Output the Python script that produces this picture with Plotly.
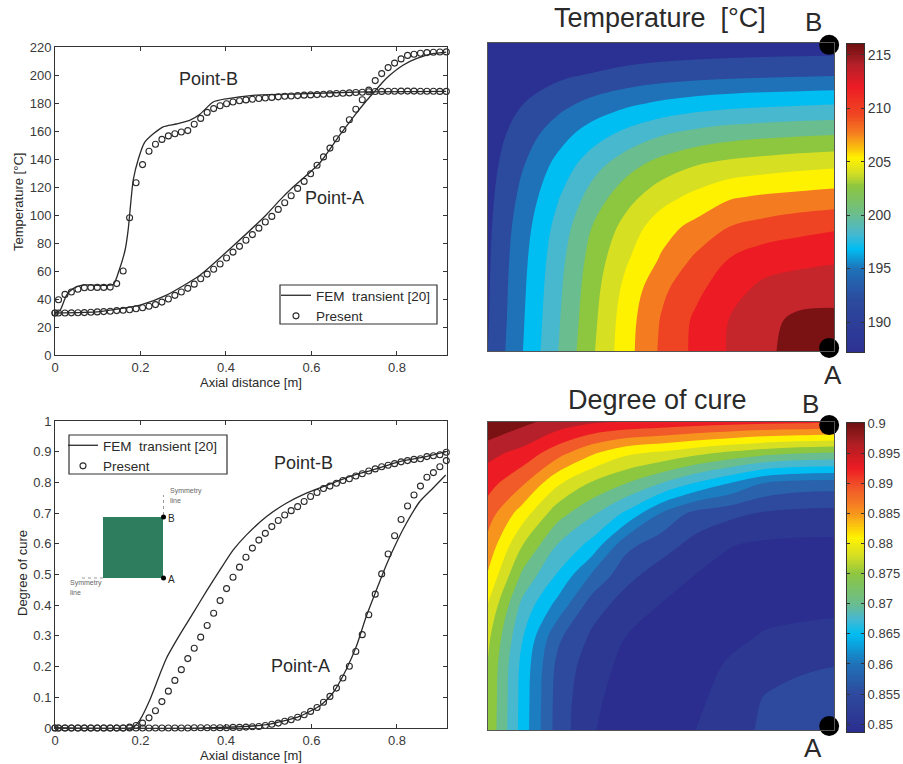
import numpy as np
import plotly.graph_objects as go

W, H = 903, 764
FONT = "Liberation Sans, Arial, sans-serif"
INK = "#2a2a2a"

# ---- line plots: data
x_present = [0, .0082, .0233, .0384, .0536, .0687, .0838, .0989, .114, .1292, .1443, .1594, .1745, .1896, .2048, .2199,
             .235, .2501, .2652, .2804, .2955, .3106, .3257, .3408, .356, .3711, .3862, .4013, .4164, .4316, .4467,
             .4618, .4769, .492, .5072, .5223, .5374, .5525, .5676, .5828, .5979, .613, .6281, .6432, .6584, .6735,
             .6886, .7037, .7188, .734, .7491, .7642, .7793, .7944, .8096, .8247, .8398, .8549, .87, .8852, .9003, .9154]

temp_a_present = [30, 30, 30, 30.1, 30.2, 30.3, 30.5, 30.8, 31, 31.3, 31.7, 32, 32.3, 33, 33.8, 34.8, 36, 37.8, 40, 42.6,
                  45, 47.6, 50.6, 54.5, 57.8, 61.3, 65, 69.3, 73.5, 77.6, 82, 86, 90.6, 95, 99, 104, 108.7, 113.7, 119,
                  124, 129.5, 135.5, 141.5, 147.8, 154.5, 161, 168, 175.5, 182.3, 189.2, 196, 201, 205.3, 208.5, 211.5,
                  214, 214.8, 215.5, 216, 216.3, 216.4, 216.5]
temp_b_present = [30, 39.5, 43.3, 45, 47, 48, 48.2, 48.3, 48.3, 48.5, 51, 60, 98, 123, 136, 145.5, 150.5, 154, 156.5, 158,
                  159.3, 160.3, 164.8, 169, 173.3, 176, 178, 179.5, 180.7, 181.6, 182.2, 182.7, 183.2, 183.6, 184, 184.4,
                  184.8, 185, 185.3, 185.6, 185.8, 186, 186.3, 186.5, 186.8, 187, 187.2, 187.5, 187.7, 188, 188.2, 188.3,
                  188.4, 188.4, 188.5, 188.5, 188.5, 188.4, 188.4, 188.4, 188.3, 188.3]
cure_a_present = [0] * 22 + [.001] * 6 + [.002, .002, .003, .004, .005, .008, .012, .016, .022, .027, .035, .043, .054,
                  .067, .084, .103, .13, .163, .201, .249, .304, .369, .436, .502, .567, .626, .679, .723, .759, .788,
                  .817, .832, .851, .871]
cure_b_present = [0] * 12 + [.003, .008, .016, .033, .056, .086, .12, .155, .19, .226, .26, .296, .334, .374, .415, .454,
                  .491, .524, .556, .586, .612, .634, .656, .676, .694, .708, .721, .738, .754, .767, .78, .788, .797,
                  .806, .812, .821, .828, .837, .844, .851, .856, .861, .867, .871, .875, .877, .884, .887, .89, .898]

temp_b_fem_x = [0, .012, .027, .043, .066, .136, .15, .164, .171, .183, .195, .21, .23, .253, .284, .315, .339, .37, .401,
                .463, .572, .728, .915]
temp_b_fem = [30, 32, 42.8, 47.6, 50, 50.4, 60.6, 75, 89, 125, 140, 152, 158, 163, 165, 167.6, 172, 180.7, 183, 185.5,
              186.5, 188, 188.3]
temp_a_fem_x = [0, .105, .199, .261, .339, .417, .495, .526, .557, .619, .666, .697, .728, .748, .767, .783, .814, .845, .884, .915]
temp_a_fem = [30, 31, 35.7, 42.8, 57, 78, 100.4, 110.6, 120, 137, 157, 169.6, 181.4, 188.3, 195, 199.8, 207, 211.7, 215.2, 216.4]
cure_b_fem_x = [0, .183, .199, .222, .245, .261, .292, .323, .354, .386, .417, .448, .495, .541, .588, .635, .689, .744,
                .806, .868, .915]
cure_b_fem = [0, .002, .027, .092, .174, .228, .304, .374, .445, .515, .58, .629, .689, .732, .765, .79, .819, .841, .868,
              .884, .9]
cure_a_fem_x = [0, .35, .495, .572, .623, .65, .681, .705, .728, .752, .775, .798, .822, .853, .884, .914]
cure_a_fem = [0, 0, .011, .038, .076, .114, .19, .266, .363, .45, .531, .602, .667, .737, .781, .824]

x_ticks = [0, .2, .4, .6, .8]
x_labels = ["0", "0.2", "0.4", "0.6", "0.8"]
temp_ticks = list(range(0, 221, 20))
cure_ticks = [0, .1, .2, .3, .4, .5, .6, .7, .8, .9, 1]
cure_labels = ["0", "0.1", "0.2", "0.3", "0.4", "0.5", "0.6", "0.7", "0.8", "0.9", "1"]

# ---- field grids: columns left to right, rows top to bottom
grid_u = [0, .1, .2, .3, .4, .5, .6, .7, .8, .9, 1]
grid_v = [0, .1, .2, .3, .4, .5, .6, .7, .8, .9, 1]
temp_field = [
    [187.27, 187.40, 187.54, 187.66, 187.76, 187.84, 187.91, 187.96, 188.00, 188.03, 188.06],
    [187.50, 188.12, 188.74, 189.31, 189.78, 190.16, 190.44, 190.64, 190.77, 190.89, 191.00],
    [187.85, 189.25, 190.66, 191.98, 193.04, 193.88, 194.47, 194.86, 195.09, 195.28, 195.44],
    [188.17, 190.30, 192.48, 194.52, 196.16, 197.42, 198.29, 198.85, 199.17, 199.42, 199.61],
    [188.44, 191.21, 194.03, 196.70, 198.84, 200.51, 201.65, 202.39, 202.81, 203.16, 203.41],
    [188.67, 191.89, 195.19, 198.31, 200.85, 202.84, 204.24, 205.50, 206.00, 206.30, 206.58],
    [188.85, 192.44, 196.08, 199.56, 202.39, 204.90, 206.34, 207.90, 208.60, 209.20, 209.60],
    [188.97, 192.78, 196.61, 200.28, 203.40, 205.90, 208.10, 209.90, 211.00, 211.30, 211.60],
    [189.06, 192.99, 196.93, 200.70, 204.30, 207.30, 209.30, 211.20, 212.40, 212.95, 213.10],
    [189.13, 193.16, 197.15, 200.98, 204.80, 207.90, 210.20, 212.00, 213.40, 214.40, 214.50],
    [189.30, 193.33, 197.37, 201.25, 204.95, 208.10, 210.30, 212.10, 213.50, 214.80, 216.00],
]
cure_field = [
    [.9000, .8975, .8955, .8940, .8932, .8926, .8920, .8916, .8912, .8910, .8905],
    [.8945, .8925, .8885, .8845, .8814, .8802, .8785, .8769, .8755, .8746, .8742],
    [.8915, .8875, .8812, .8770, .8742, .8710, .8675, .8645, .8611, .8600, .8598],
    [.8885, .8821, .8755, .8715, .8670, .8610, .8570, .8558, .8545, .8540, .8538],
    [.8860, .8775, .8710, .8668, .8592, .8565, .8540, .8520, .8514, .8512, .8512],
    [.8835, .8735, .8675, .8610, .8560, .8535, .8518, .8510, .8507, .8505, .8505],
    [.8803, .8700, .8635, .8565, .8535, .8517, .8508, .8508, .8510, .8512, .8513],
    [.8782, .8680, .8590, .8545, .8518, .8508, .8505, .8512, .8522, .8526, .8530],
    [.8772, .8668, .8575, .8532, .8510, .8504, .8507, .8524, .8540, .8548, .8552],
    [.8770, .8666, .8571, .8525, .8507, .8506, .8512, .8533, .8553, .8560, .8565],
    [.8768, .8665, .8570, .8521, .8506, .8510, .8519, .8539, .8556, .8566, .8575],
]
temp_bands = ["#2B3192", "#2C4A9E", "#1F72B8", "#00BDF2", "#48B8CE", "#6ABD8F", "#8DC63F", "#D7DF23", "#FFF200",
              "#F47B20", "#EF4423", "#ED1C24", "#C4262B", "#7A1214"]
cure_bands = ["#2B2E8F", "#2C3892", "#2E4A9E", "#2A63AC", "#1C7DC0", "#00BDF2", "#48B8CE", "#6ABD8F", "#8DC63F",
              "#D7DF23", "#FFF200", "#F7941E", "#F15A29", "#ED1C24", "#B5202A", "#7A1214"]
temp_range = (187.2, 216.0)
cure_range = (.8487, .9)
temp_ramp = [(187.2, "#2E3192"), (192, "#2C4A9E"), (195, "#1F72B8"), (196.8, "#00BDF2"), (198.3, "#48B8CE"), (200, "#6ABD8F"),
             (202.7, "#8DC63F"), (204, "#D7DF23"), (205.3, "#FFF200"), (207.7, "#F47B20"), (209.5, "#EF4423"), (212, "#ED1C24"),
             (214, "#B5202A"), (216, "#6E1010")]
cure_ramp = [(.8487, "#2B2E8F"), (.855, "#2E4A9E"), (.86, "#1F72B8"), (.865, "#00BDF2"), (.8675, "#48B8CE"), (.87, "#6ABD8F"),
             (.875, "#8DC63F"), (.878, "#D7DF23"), (.881, "#FFF200"), (.885, "#F7941E"), (.889, "#F15A29"), (.8925, "#ED1C24"),
             (.897, "#A51E22"), (.9, "#6E1010")]
temp_bar_ticks = [190, 195, 200, 205, 210, 215]
cure_bar_ticks = [.85, .855, .86, .865, .87, .875, .88, .885, .89, .895, .9]
cure_bar_labels = ["0.85", "0.855", "0.86", "0.865", "0.87", "0.875", "0.88", "0.885", "0.89", "0.895", "0.9"]
corner_u = [.986, .986]
temp_corner_v = [.006, .99]
cure_corner_v = [.01, .987]


def fx(p):
    return p / W


def fy(p):
    return 1 - p / H


def stepped(colors):
    n = len(colors)
    out = []
    for i, c in enumerate(colors):
        out += [[i / n, c], [(i + 1) / n, c]]
    return out


def ramp_scale(ramp):
    lo, hi = ramp[0][0], ramp[-1][0]
    return [[(v - lo) / (hi - lo), c] for v, c in ramp]


fig = go.Figure()
LABEL_FEM = "FEM\u00a0 transient [20]"


def line_panel(n, legend, fem_sets, present_sets):
    ax = dict(xaxis="x" if n == 1 else f"x{n}", yaxis="y" if n == 1 else f"y{n}")
    for i, (xs, ys) in enumerate(fem_sets):
        fig.add_trace(go.Scatter(x=xs, y=ys, mode="lines", name=LABEL_FEM, legend=legend, showlegend=i == 0,
                                 line=dict(color=INK, width=1.3, shape="spline", smoothing=.6), **ax))
    for i, ys in enumerate(present_sets):
        fig.add_trace(go.Scatter(x=x_present, y=ys, mode="markers", name="Present", legend=legend, showlegend=i == 0,
                                 marker=dict(symbol="circle-open", size=6, color=INK, line=dict(width=1.1, color=INK)),
                                 cliponaxis=False, **ax))


line_panel(1, "legend", [(temp_b_fem_x, temp_b_fem), (temp_a_fem_x, temp_a_fem)], [temp_b_present, temp_a_present])
line_panel(2, "legend2", [(cure_b_fem_x, cure_b_fem), (cure_a_fem_x, cure_a_fem)], [cure_b_present, cure_a_present])


def field_panel(n, field, bands, start, size, end, corner_v):
    a = dict(xaxis=f"x{n}", yaxis=f"y{n}")
    fig.add_trace(go.Contour(x=grid_u, y=grid_v, z=field, colorscale=stepped(bands), showscale=False,
                             contours=dict(coloring="fill", start=start, end=end, size=size, showlines=False),
                             autocontour=False, line=dict(width=0), hoverinfo="skip", **a))
    fig.add_trace(go.Scatter(x=corner_u, y=corner_v, mode="markers", showlegend=False, cliponaxis=False,
                             marker=dict(color="black", size=20), **a))


def bar_panel(n, rng, ramp):
    vals = np.linspace(rng[0], rng[1], 160)
    fig.add_trace(go.Heatmap(x=[0, 1], y=vals, z=[[v, v] for v in vals], colorscale=ramp_scale(ramp), zmin=rng[0],
                             zmax=rng[1], showscale=False, hoverinfo="skip", xaxis=f"x{n}", yaxis=f"y{n}"))


field_panel(3, temp_field, temp_bands, 189.257, 2.057, 213.95, temp_corner_v)
field_panel(4, cure_field, cure_bands, .8519, .0032, .8968, cure_corner_v)
bar_panel(5, temp_range, temp_ramp)
bar_panel(6, cure_range, cure_ramp)

AX = dict(showgrid=False, zeroline=False, showline=True, linecolor="#333", linewidth=1, mirror="ticks", ticks="inside",
          ticklen=4, tickcolor="#333", tickfont=dict(family=FONT, size=13, color="#3a3a3a"))


def dom_x(a, b):
    return [fx(a), fx(b)]


def dom_y(top, bottom):
    return [fy(bottom), fy(top)]


layout = dict(
    width=W, height=H, autosize=False, margin=dict(l=0, r=0, t=0, b=0, autoexpand=False), paper_bgcolor="white",
    plot_bgcolor="white", font=dict(family=FONT, color=INK),
    xaxis=dict(AX, domain=dom_x(55, 447), range=[0, .917], tickvals=x_ticks, ticktext=x_labels, anchor="y"),
    yaxis=dict(AX, domain=dom_y(47, 355), range=[0, 220], tickvals=temp_ticks, anchor="x"),
    xaxis2=dict(AX, domain=dom_x(55, 447), range=[0, .917], tickvals=x_ticks, ticktext=x_labels, anchor="y2"),
    yaxis2=dict(AX, domain=dom_y(421, 728), range=[0, 1], tickvals=cure_ticks, ticktext=cure_labels, anchor="x2"),
)
for n, top, bottom in [(3, 43, 351), (4, 422, 730)]:
    plain = dict(showgrid=False, zeroline=False, showline=True, linecolor="#555", linewidth=1, mirror=True,
                 ticks="", showticklabels=False)
    layout[f"xaxis{n}"] = dict(plain, domain=dom_x(488, 834), range=[0, 1], anchor=f"y{n}")
    layout[f"yaxis{n}"] = dict(plain, domain=dom_y(top, bottom), range=[1, 0], anchor=f"x{n}")
for n, top, bottom, rng, tv, tt, size in [(5, 44, 352, temp_range, temp_bar_ticks, [str(t) for t in temp_bar_ticks], 14),
                                          (6, 423, 732, cure_range, cure_bar_ticks, cure_bar_labels, 13)]:
    layout[f"xaxis{n}"] = dict(domain=dom_x(847, 864), range=[0, 1], showticklabels=False, ticks="", showgrid=False,
                               zeroline=False, showline=True, linecolor="#333", mirror=True, anchor=f"y{n}")
    layout[f"yaxis{n}"] = dict(domain=dom_y(top, bottom), range=list(rng), side="right", tickvals=tv, ticktext=tt,
                               ticks="inside", ticklen=3, tickcolor="#333", showgrid=False, zeroline=False, showline=True,
                               linecolor="#333", mirror="ticks", tickfont=dict(family=FONT, size=size, color="#3a3a3a"),
                               anchor=f"x{n}")
LEG_STYLE = dict(bgcolor="rgba(0,0,0,0)", borderwidth=0, font=dict(family=FONT, size=13.5, color=INK),
                 xanchor="left", yanchor="top", tracegroupgap=0, itemwidth=30)
layout["legend"] = dict(LEG_STYLE, x=fx(276), y=fy(280))
layout["legend2"] = dict(LEG_STYLE, x=fx(63), y=fy(430))


def note(text, x, y, size, color=INK, angle=0, xanchor="center"):
    return dict(text=text, x=fx(x), y=fy(y), xref="paper", yref="paper", showarrow=False, xanchor=xanchor, yanchor="middle",
                textangle=angle, font=dict(family=FONT, size=size, color=color))


layout["annotations"] = [
    note("Axial distance [m]", 251, 382, 13),
    note("Temperature [°C]", 18, 202, 13, angle=-90),
    note("Axial distance [m]", 251, 755, 13),
    note("Degree of cure", 22, 573, 13, angle=-90),
    note("Point-B", 208, 79, 18),
    note("Point-A", 334, 198, 18),
    note("Point-B", 303, 463, 18),
    note("Point-A", 300, 666, 18),
    note("Temperature\u00a0 [°C]", 660, 18, 27),
    note("Degree of cure", 657, 400, 27),
    note("B", 813, 22, 26),
    note("A", 833, 375, 26),
    note("B", 810, 404, 26),
    note("A", 813, 748, 26),
    note("B", 171, 518, 10),
    note("A", 171, 579, 10),
    note("Symmetry", 168, 491, 7, "#666", xanchor="left"),
    note("line", 168, 500, 7, "#666", xanchor="left"),
    note("Symmetry", 68, 583, 7, "#666", xanchor="left"),
    note("line", 68, 592, 7, "#666", xanchor="left"),
]


def box(x0, y0, x1, y1, fill, line=None):
    return dict(type="rect", xref="paper", yref="paper", x0=fx(x0), x1=fx(x1), y0=fy(y1), y1=fy(y0), fillcolor=fill,
                line=line or dict(width=0), layer="above")


layout["shapes"] = [
    box(280, 285, 437, 324, "white", dict(color="#333", width=1.2)),
    box(69, 435, 227, 474, "white", dict(color="#333", width=1.2)),
    box(103, 517, 163, 578, "#2E7D5E"),
    dict(type="line", xref="paper", yref="paper", x0=fx(163.5), x1=fx(163.5), y0=fy(515), y1=fy(495),
         line=dict(color="#999", width=1, dash="dot")),
    dict(type="line", xref="paper", yref="paper", x0=fx(82), x1=fx(103), y0=fy(578), y1=fy(578),
         line=dict(color="#999", width=1, dash="dot")),
    dict(type="circle", xref="paper", yref="paper", x0=fx(161), x1=fx(166), y0=fy(519.5), y1=fy(514.5), fillcolor="black",
         line=dict(width=0), layer="above"),
    dict(type="circle", xref="paper", yref="paper", x0=fx(161), x1=fx(166), y0=fy(580.5), y1=fy(575.5), fillcolor="black",
         line=dict(width=0), layer="above"),
]
fig.update_layout(**layout)
fig.write_html("out.html", config={"displayModeBar": False}, post_script="document.body.style.margin='0';")
